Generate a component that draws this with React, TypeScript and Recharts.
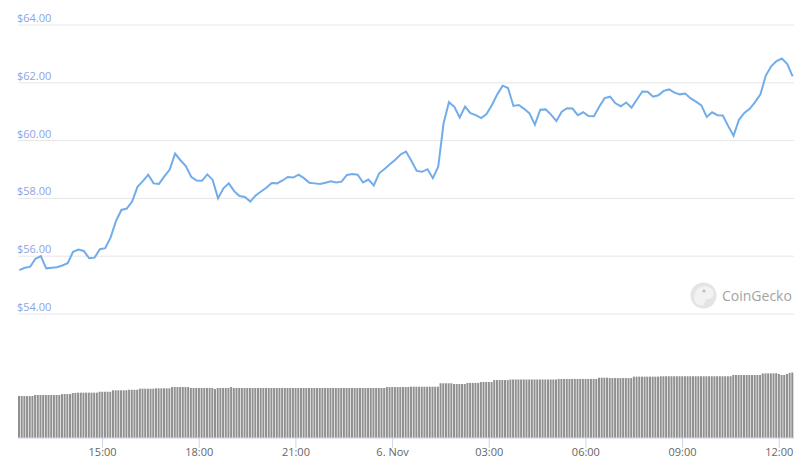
import React from 'react';
import { LineChart, Line, BarChart, Bar, XAxis, YAxis, CartesianGrid } from 'recharts';

// minutes relative to 00:00, 6 Nov
const START = -695;
const DOMAIN: [number, number] = [-697.5, 747.5];

const tickTimes = [-540, -360, -180, 0, 180, 360, 540, 720];
const tickLabels = ['15:00', '18:00', '21:00', '6. Nov', '03:00', '06:00', '09:00', '12:00'];
const priceTicks = [54, 56, 58, 60, 62, 64];

// price every 10 minutes
const prices = [
  55.52, 55.6, 55.63, 55.91, 56.0, 55.58, 55.6, 55.62, 55.68, 55.76, 56.15, 56.23,
  56.18, 55.93, 55.95, 56.24, 56.28, 56.65, 57.22, 57.6, 57.65, 57.89, 58.4, 58.6,
  58.82, 58.52, 58.5, 58.76, 59.0, 59.55, 59.32, 59.12, 58.75, 58.62, 58.61, 58.83,
  58.64, 58.0, 58.35, 58.52, 58.25, 58.08, 58.05, 57.89, 58.1, 58.24, 58.37, 58.53,
  58.52, 58.62, 58.74, 58.72, 58.82, 58.7, 58.54, 58.52, 58.5, 58.54, 58.59, 58.55,
  58.58, 58.81, 58.84, 58.82, 58.55, 58.65, 58.45, 58.87, 59.02, 59.18, 59.34, 59.52,
  59.62, 59.3, 58.95, 58.92, 59.01, 58.7, 59.1, 60.6, 61.33, 61.17, 60.8, 61.18,
  60.95, 60.88, 60.78, 60.92, 61.23, 61.6, 61.9, 61.82, 61.2, 61.23, 61.1, 60.94,
  60.55, 61.07, 61.08, 60.9, 60.68, 61.0, 61.12, 61.11, 60.88, 60.98, 60.85, 60.84,
  61.18, 61.47, 61.52, 61.29, 61.19, 61.32, 61.14, 61.42, 61.7, 61.69, 61.52, 61.57,
  61.72, 61.77, 61.66, 61.6, 61.63, 61.46, 61.35, 61.22, 60.82, 60.98, 60.88, 60.87,
  60.5, 60.17, 60.72, 60.96, 61.1, 61.33, 61.6, 62.25, 62.57, 62.75, 62.84, 62.65,
  62.22,
];

// 24h volume (billion USD) every 5 minutes
const volumes = [
  2.33, 2.33, 2.33, 2.33, 2.33, 2.33, 2.39, 2.39, 2.39, 2.39, 2.39, 2.39,
  2.39, 2.39, 2.39, 2.39, 2.44, 2.44, 2.44, 2.44, 2.5, 2.5, 2.52, 2.52,
  2.52, 2.52, 2.52, 2.52, 2.52, 2.52, 2.57, 2.57, 2.57, 2.57, 2.57, 2.65,
  2.65, 2.65, 2.65, 2.65, 2.65, 2.68, 2.68, 2.68, 2.68, 2.74, 2.74, 2.74,
  2.74, 2.74, 2.74, 2.76, 2.76, 2.76, 2.76, 2.76, 2.76, 2.83, 2.83, 2.83,
  2.83, 2.83, 2.83, 2.83, 2.78, 2.78, 2.78, 2.78, 2.78, 2.78, 2.78, 2.78,
  2.78, 2.72, 2.78, 2.78, 2.78, 2.78, 2.78, 2.83, 2.78, 2.78, 2.78, 2.78,
  2.78, 2.78, 2.78, 2.78, 2.78, 2.78, 2.78, 2.78, 2.78, 2.78, 2.78, 2.78,
  2.78, 2.78, 2.78, 2.78, 2.78, 2.78, 2.78, 2.78, 2.78, 2.78, 2.78, 2.78,
  2.78, 2.78, 2.78, 2.78, 2.78, 2.78, 2.78, 2.78, 2.78, 2.78, 2.78, 2.78,
  2.78, 2.78, 2.78, 2.78, 2.78, 2.78, 2.78, 2.78, 2.78, 2.78, 2.78, 2.78,
  2.78, 2.78, 2.78, 2.78, 2.78, 2.83, 2.83, 2.83, 2.83, 2.83, 2.83, 2.83,
  2.83, 2.83, 2.85, 2.85, 2.85, 2.85, 2.85, 2.85, 2.85, 2.85, 2.85, 2.85,
  2.85, 3.04, 3.04, 3.04, 3.04, 3.04, 3.0, 3.0, 3.0, 3.0, 3.0, 3.06,
  3.06, 3.06, 3.06, 3.06, 3.11, 3.11, 3.11, 3.11, 3.11, 3.22, 3.22, 3.22,
  3.22, 3.22, 3.22, 3.25, 3.25, 3.25, 3.25, 3.25, 3.25, 3.25, 3.25, 3.25,
  3.25, 3.25, 3.25, 3.25, 3.25, 3.25, 3.25, 3.25, 3.25, 3.28, 3.28, 3.28,
  3.28, 3.28, 3.28, 3.28, 3.28, 3.28, 3.28, 3.28, 3.28, 3.28, 3.28, 3.28,
  3.35, 3.35, 3.35, 3.35, 3.33, 3.33, 3.33, 3.33, 3.33, 3.33, 3.33, 3.33,
  3.33, 3.41, 3.41, 3.41, 3.41, 3.41, 3.41, 3.41, 3.41, 3.41, 3.41, 3.43,
  3.43, 3.43, 3.43, 3.43, 3.43, 3.43, 3.43, 3.43, 3.43, 3.43, 3.43, 3.43,
  3.43, 3.43, 3.43, 3.43, 3.43, 3.43, 3.43, 3.43, 3.43, 3.43, 3.43, 3.43,
  3.43, 3.43, 3.5, 3.5, 3.5, 3.5, 3.5, 3.5, 3.5, 3.5, 3.5, 3.5,
  3.5, 3.59, 3.59, 3.59, 3.59, 3.59, 3.6, 3.56, 3.5, 3.5, 3.56, 3.62,
  3.64,
];

const priceData = prices.map((p, i) => ({ t: START + i * 10, price: p }));
const volumeData = volumes.map((v, i) => ({ t: START + i * 5, volume: v }));

const fmtTime = (t: number) => tickLabels[tickTimes.indexOf(t)] ?? '';

// labels sit just above their grid line, at the plot's left edge
const renderPriceTick = (props: any) => {
  const { x, y, payload } = props;
  return (
    <text x={x + 1} y={y - 3} fill="#8ea3e4" fontSize={11} textAnchor="start">
      {'$' + Number(payload.value).toFixed(2)}
    </text>
  );
};

const Watermark = () => (
  <svg width={806} height={467} style={{ position: 'absolute', left: 0, top: 0, pointerEvents: 'none' }}>
    <circle cx={703.5} cy={295.5} r={13} fill="#e4e4e4" />
    <path d="M694 300 Q694 287 705 286 Q713 287 714 294 Q712 300 706 299 L703 306 Q696 305 694 300 Z" fill="#f2f2f2" />
    <circle cx={704} cy={291} r={1.6} fill="#bdbdbd" />
    <text x={722} y={300.5} fontSize={14} fill="#a3a3a3">CoinGecko</text>
  </svg>
);

export default function App() {
  return (
    <div
      style={{
        position: 'absolute',
        left: 0,
        top: 0,
        width: 806,
        height: 467,
        background: '#fff',
        fontFamily: '"Segoe UI", "Open Sans", sans-serif',
      }}
    >
      <div style={{ position: 'absolute', left: 0, top: 0 }}>
        <BarChart width={806} height={467} data={volumeData} margin={{ top: 330, right: 12, bottom: 0, left: 18 }}>
          <XAxis
            dataKey="t"
            type="number"
            domain={DOMAIN}
            ticks={tickTimes}
            tickFormatter={fmtTime}
            height={29}
            tickSize={10}
            tickMargin={0}
            stroke="#ccd6eb"
            tick={{ fill: '#666666', fontSize: 11 }}
          />
          <YAxis hide domain={[0, 6]} />
          <Bar dataKey="volume" fill="#909090" barSize={2} isAnimationActive={false} />
        </BarChart>
      </div>
      <div style={{ position: 'absolute', left: 0, top: 0 }}>
        <LineChart width={806} height={330} data={priceData} margin={{ top: 25, right: 12, bottom: 16, left: 0 }}>
          <CartesianGrid vertical={false} stroke="#e6e6e6" />
          <XAxis dataKey="t" type="number" domain={DOMAIN} hide />
          <YAxis
            domain={[54, 64]}
            ticks={priceTicks}
            interval={0}
            width={18}
            axisLine={false}
            tickLine={false}
            tickSize={0}
            tick={renderPriceTick}
          />
          <Line
            type="linear"
            dataKey="price"
            stroke="#72ade9"
            strokeWidth={2}
            dot={false}
            isAnimationActive={false}
          />
        </LineChart>
      </div>
      <Watermark />
    </div>
  );
}
